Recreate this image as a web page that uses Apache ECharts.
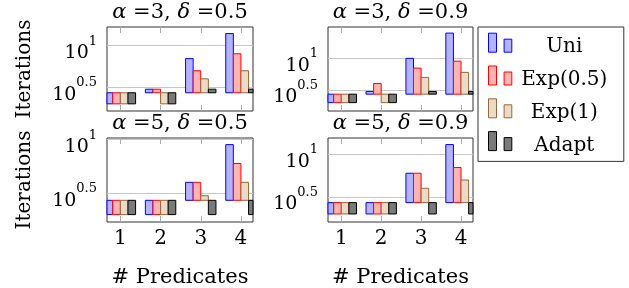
<!DOCTYPE html>
<html>
<head>
<meta charset="utf-8">
<script src="https://cdn.jsdelivr.net/npm/echarts@6/dist/echarts.min.js"></script>
<style>
  html, body { margin: 0; padding: 0; background: #fff; }
  #chart { width: 629px; height: 288px; }
</style>
</head>
<body>
<div id="chart"></div>
<script>
// x categories (# predicates) and the legend names
const predicates = [1, 2, 3, 4];
const seriesNames = ['Uni', 'Exp(0.5)', 'Exp(1)', 'Adapt'];

// panel parameters
const alphas = ['3', '3', '5', '5'];
const deltas = ['0.5', '0.9', '0.5', '0.9'];

// iterations
const uniA3D05 = [2, 3, 7, 14];
const exp05A3D05 = [2, 3, 5, 8];
const exp1A3D05 = [2, 2, 4, 5];
const adaptA3D05 = [2, 2, 3, 3];

const uniA3D09 = [2, 3, 10, 25];
const exp05A3D09 = [2, 4, 7, 9];
const exp1A3D09 = [2, 2, 5, 6];
const adaptA3D09 = [2, 2, 3, 3];

const uniA5D05 = [2, 2, 4, 9];
const exp05A5D05 = [2, 2, 4, 6];
const exp1A5D05 = [2, 2, 3, 4];
const adaptA5D05 = [2, 2, 2, 2];

const uniA5D09 = [2, 2, 6, 13];
const exp05A5D09 = [2, 2, 6, 7];
const exp1A5D09 = [2, 2, 4, 5];
const adaptA5D09 = [2, 2, 2, 2];

// y tick positions (log10 exponents)
const yTicks = [0.5, 1];

const panelValues = [
  [uniA3D05, exp05A3D05, exp1A3D05, adaptA3D05],
  [uniA3D09, exp05A3D09, exp1A3D09, adaptA3D09],
  [uniA5D05, exp05A5D05, exp1A5D05, adaptA5D05],
  [uniA5D09, exp05A5D09, exp1A5D09, adaptA5D09],
];

// bars grow from this value (pgfplots log origin)
const barOrigin = Math.E;

// layout
const font = 'DejaVu Serif';
const grids = [
  { left: 107, top: 27, width: 146, height: 84 },
  { left: 328, top: 27, width: 145, height: 84 },
  { left: 107, top: 138, width: 146, height: 84 },
  { left: 328, top: 138, width: 145, height: 84 },
];
const yRanges = [[0.215, 1.225], [0.169, 1.494], [0.232, 1.016], [0.207, 1.191]];
const xRange = [0.667, 4.3];
const barWidth = 7.6;

const fills = ['#b3b3ff', '#ffb3b3', '#ecd9c6', '#7a7a7a'];
const strokes = ['#0000ff', '#ff0000', '#94683c', '#000000'];

// two little bars; the empty segment at y=28 leaves room under them so the text sits lower
const legendIcon = 'path://M0,0H8V19H0Z M15.6,6H23.3V19H15.6Z M0,28L0,28';

const chart = echarts.init(document.getElementById('chart'), null, { renderer: 'canvas' });

// one bar, from the log origin to the value, shifted by its slot in the group
function barRenderer(slot) {
  return function (params, api) {
    const x = api.value(0);
    const top = api.coord([x, api.value(1)]);
    const base = api.coord([x, Math.log10(barOrigin)]);
    const left = top[0] + (slot - 2) * barWidth;
    const rect = echarts.graphic.clipRectByRect({
      x: left,
      y: Math.min(top[1], base[1]),
      width: barWidth,
      height: Math.abs(base[1] - top[1])
    }, {
      x: params.coordSys.x,
      y: params.coordSys.y,
      width: params.coordSys.width,
      height: params.coordSys.height
    });
    if (!rect) return;
    return { type: 'rect', shape: rect, style: api.style() };
  };
}

let xAxes = [];
let yAxes = [];
let series = [];

grids.forEach((g, p) => {
  const isBottom = p >= 2;
  xAxes.push({
    type: 'value', gridIndex: p, min: xRange[0], max: xRange[1],
    axisLine: { show: false },
    axisTick: { show: true, inside: true, length: 6, customValues: predicates, lineStyle: { color: '#aaaaaa' } },
    axisLabel: {
      show: isBottom, customValues: predicates, margin: 7,
      fontFamily: font, fontSize: 20, lineHeight: 20, color: '#000'
    },
    splitLine: { show: false },
    name: isBottom ? '# Predicates' : '',
    nameLocation: 'middle', nameGap: 46,
    nameTextStyle: { fontFamily: font, fontSize: 21, lineHeight: 20, color: '#000' }
  });
  yAxes.push({
    type: 'value', gridIndex: p, min: yRanges[p][0], max: yRanges[p][1],
    axisLine: { show: false },
    axisTick: { show: false, customValues: yTicks },
    axisLabel: {
      customValues: yTicks, margin: 10, padding: [6, 0, 0, 0],
      formatter: v => '{b|10}{s|' + v + '}',
      rich: {
        b: { fontFamily: font, fontSize: 19, lineHeight: 28, verticalAlign: 'bottom', color: '#000' },
        s: { fontFamily: font, fontSize: 13, lineHeight: 10, verticalAlign: 'top', color: '#000' }
      }
    },
    splitLine: { show: true, lineStyle: { color: '#c8c8c8', width: 1 } },
    name: p % 2 === 0 ? 'Iterations' : '',
    nameLocation: 'middle', nameRotate: 90, nameGap: 72,
    nameTextStyle: { fontFamily: font, fontSize: 20, color: '#000' }
  });

  panelValues[p].forEach((vals, k) => {
    series.push({
      type: 'custom', name: seriesNames[k], xAxisIndex: p, yAxisIndex: p,
      renderItem: barRenderer(k),
      itemStyle: { color: fills[k], borderColor: strokes[k], borderWidth: 1 },
      data: vals.map((v, i) => [predicates[i], Math.log10(v)])
    });
  });
});

// top axes carry the tick marks on top and the panel titles
grids.forEach((g, p) => {
  xAxes.push({
    type: 'value', gridIndex: p, position: 'top', min: xRange[0], max: xRange[1],
    axisLine: { show: false },
    axisTick: { show: true, inside: true, length: 6, customValues: predicates, lineStyle: { color: '#aaaaaa' } },
    axisLabel: { show: false },
    splitLine: { show: false },
    name: '{i|α} =' + alphas[p] + ', {i|δ} =' + deltas[p],
    nameLocation: 'middle', nameGap: 4,
    nameTextStyle: {
      fontFamily: font, fontSize: 21, lineHeight: 20, color: '#000',
      rich: { i: { fontFamily: font, fontStyle: 'italic', fontSize: 21, lineHeight: 20, color: '#000' } }
    }
  });
});

chart.setOption({
  animation: false,
  backgroundColor: '#fff',
  grid: grids.map(g => Object.assign({
    show: true, borderColor: '#333', borderWidth: 1, backgroundColor: 'transparent',
    containLabel: false, outerBoundsMode: 'none'
  }, g)),
  xAxis: xAxes,
  yAxis: yAxes,
  legend: {
    orient: 'vertical', left: 478, top: 27,
    padding: [5.7, 12, 1.3, 10], itemGap: 3.8, itemWidth: 23.3, itemHeight: 28,
    borderColor: '#333', borderWidth: 1, backgroundColor: '#fff',
    selectedMode: false,
    data: seriesNames.map(n => ({ name: n, icon: legendIcon })),
    itemStyle: { borderWidth: 1 },
    formatter: n => '{c|' + n + '}',
    textStyle: {
      rich: { c: { width: 95, align: 'center', fontFamily: font, fontSize: 20, lineHeight: 19, color: '#000' } }
    }
  },
  series: series
});
</script>
</body>
</html>
